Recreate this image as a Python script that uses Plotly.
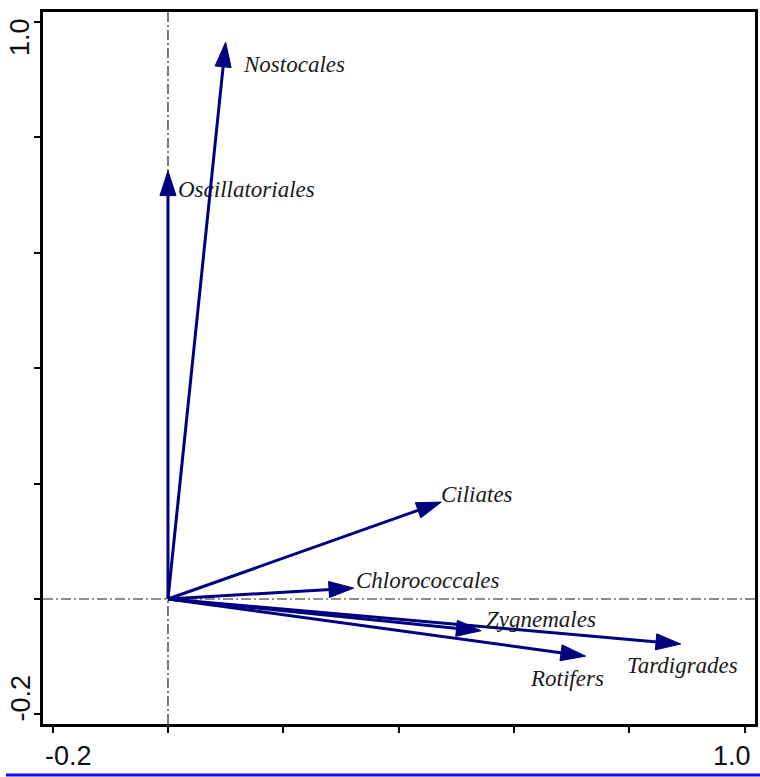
import plotly.graph_objects as go

# ---- data ----
species = ["Nostocales", "Oscillatoriales", "Ciliates", "Chlorococcales",
           "Zygnemales", "Tardigrades", "Rotifers"]
axis1 = [0.100, 0.000, 0.474, 0.322, 0.543, 0.889, 0.724]
axis2 = [0.965, 0.742, 0.168, 0.019, -0.055, -0.078, -0.099]
tick_vals = [-0.2, 0.0, 0.2, 0.4, 0.6, 0.8, 1.0]
x_tick_text = ["-0.2", "", "", "", "", "", "1.0"]
y_tick_text = ["-0.2", "", "", "", "", "", "1.0"]

# ---- styling (label offsets in px relative to arrow tip) ----
label_dx = [15, 8, -2, 0, 3, -56, -58]
label_dy = [-22, -19, 8, 8, 11, -21, -22]
NAVY = "#000080"

fig = go.Figure()

# crosshair lines through origin
fig.add_shape(type="line", xref="x", yref="paper", x0=0, x1=0, y0=0, y1=1,
              line=dict(color="#222222", width=1.2, dash="10px,3px,2px,3px"), layer="below")
fig.add_shape(type="line", xref="paper", yref="y", x0=0, x1=1, y0=0, y1=0,
              line=dict(color="#222222", width=1.2, dash="10px,3px,2px,3px"), layer="below")

for name, xv, yv, dx, dy in zip(species, axis1, axis2, label_dx, label_dy):
    fig.add_trace(go.Scatter(
        x=[0, xv], y=[0, yv], mode="lines+markers",
        line=dict(color=NAVY, width=3),
        marker=dict(symbol="arrow", size=[0, 26], angleref="previous", color=NAVY,
                    opacity=1, line=dict(width=1, color=NAVY)),
        hoverinfo="skip", showlegend=False, name=name))
    fig.add_annotation(x=xv, y=yv, xref="x", yref="y", text=name, showarrow=False,
                       xanchor="left", yanchor="middle", xshift=dx, yshift=dy,
                       font=dict(family="Liberation Serif", size=23, color="#1a1a1a",
                                 style="italic"))

# end tick labels (clamped inside the frame like the original)
fig.add_annotation(xref="paper", yref="paper", x=0, y=0, yshift=-15, text=x_tick_text[0],
                   showarrow=False, xanchor="left", yanchor="top",
                   font=dict(family="Liberation Sans", size=27, color="#111111"))
fig.add_annotation(xref="paper", yref="paper", x=1, y=0, yshift=-15, xshift=-2, text=x_tick_text[-1],
                   showarrow=False, xanchor="right", yanchor="top",
                   font=dict(family="Liberation Sans", size=27, color="#111111"))
fig.add_annotation(xref="paper", yref="paper", x=0, y=1, xshift=-6, yshift=-4, text=y_tick_text[-1],
                   showarrow=False, xanchor="right", yanchor="top", textangle=-90,
                   font=dict(family="Liberation Sans", size=27, color="#111111"))
fig.add_annotation(xref="paper", yref="paper", x=0, y=0, xshift=-6, text=y_tick_text[0],
                   showarrow=False, xanchor="right", yanchor="bottom", textangle=-90,
                   font=dict(family="Liberation Sans", size=27, color="#111111"))

# blue rule under the figure
fig.add_shape(type="line", xref="paper", yref="paper", x0=-0.052, x1=1.01, y0=-0.0716, y1=-0.0716,
              line=dict(color="#1010E8", width=3))

fig.update_xaxes(range=[-0.2167, 1.0178], tickvals=tick_vals, showticklabels=False,
                 ticks="outside", ticklen=6, tickwidth=2, tickcolor="black",
                 showline=True, linewidth=3, linecolor="black", mirror=True,
                 showgrid=False, zeroline=False, fixedrange=True)
fig.update_yaxes(range=[-0.2166, 1.0173], tickvals=tick_vals, showticklabels=False,
                 ticks="outside", ticklen=6, tickwidth=2, tickcolor="black",
                 showline=True, linewidth=3, linecolor="black", mirror=True,
                 showgrid=False, zeroline=False, fixedrange=True)

fig.update_layout(width=760, height=777, margin=dict(l=43, r=2, t=12, b=53),
                  plot_bgcolor="white", paper_bgcolor="white")

fig.write_html("out.html", config={"displayModeBar": False},
               post_script="document.body.style.margin='0';document.body.style.overflow='hidden';")
